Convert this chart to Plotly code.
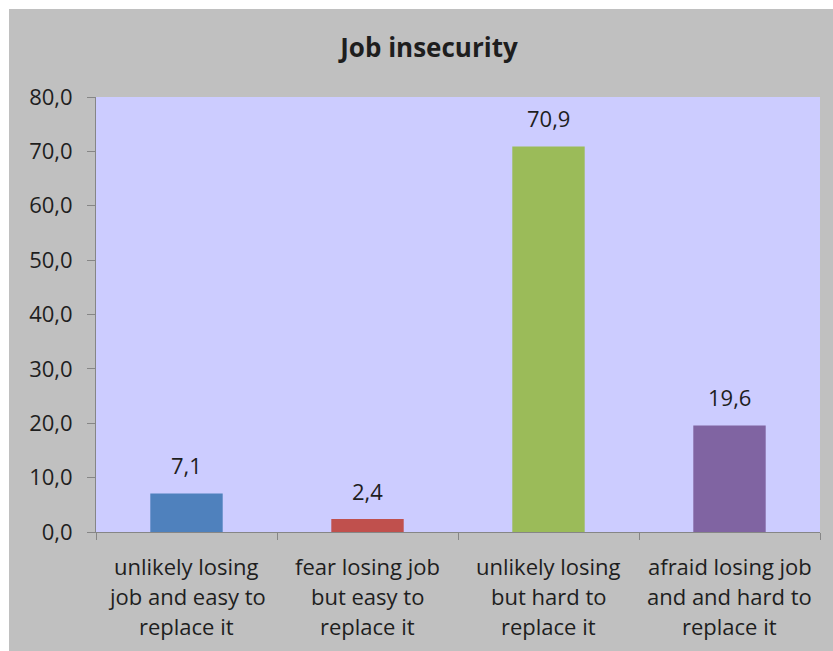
import plotly.graph_objects as go

title = "Job insecurity"
categories = [
    "unlikely losing<br>job and easy to<br>replace it",
    "fear losing job<br>but easy to<br>replace it",
    "unlikely losing<br>but hard to<br>replace it",
    "afraid losing job<br>and and hard to<br>replace it",
]
values = [7.1, 2.4, 70.9, 19.6]
colors = ["#4f81bd", "#c0504d", "#9bbb59", "#8064a2"]
y_ticks = [0, 10, 20, 30, 40, 50, 60, 70, 80]

FONT = "Open Sans"
TXT = "#1e1e1e"

W, H = 833, 651
ML, MR, MT, MB = 96, 13, 97, 119
pw, ph = W - ML - MR, H - MT - MB

fig = go.Figure()
fig.add_trace(go.Bar(
    x=list(range(len(categories))), y=values,
    marker=dict(color=colors, line=dict(width=0)),
    width=0.4, hoverinfo="skip",
))

annotations = []
# data labels
for i, v in enumerate(values):
    annotations.append(dict(
        x=i, y=v, xref="x", yref="y", text=f"{v:.1f}".replace(".", ","),
        showarrow=False, yanchor="bottom", yshift=11,
        font=dict(family=FONT, size=22, color=TXT),
    ))
# category labels (line by line)
for i, c in enumerate(categories):
    for j, line in enumerate(c.split("<br>")):
        annotations.append(dict(
            x=i, y=0, xref="x", yref="paper", text=line,
            showarrow=False, yanchor="middle", yshift=-34 - 30 * j,
            font=dict(family=FONT, size=22, color=TXT),
        ))

# white strips at top and left (outside gray frame)
shapes = [
    dict(type="rect", xref="paper", yref="paper",
         x0=-ML / pw - 0.01, x1=(9 - ML) / pw, y0=-MB / ph - 0.01, y1=(H - MB) / ph + 0.01,
         fillcolor="white", line=dict(width=0), layer="above"),
    dict(type="rect", xref="paper", yref="paper",
         x0=-ML / pw - 0.01, x1=(W - ML) / pw + 0.01, y0=(H - MB - 9) / ph, y1=(H - MB) / ph + 0.01,
         fillcolor="white", line=dict(width=0), layer="above"),
]

fig.update_layout(
    width=W, height=H,
    margin=dict(l=ML, r=MR, t=MT, b=MB, pad=0),
    paper_bgcolor="#c0c0c0",
    plot_bgcolor="#ccccff",
    showlegend=False,
    separators=",.",
    title=dict(text=f"<b>{title}</b>", x=(429) / W, xanchor="center",
               y=1 - 48 / H, yanchor="middle",
               font=dict(family=FONT, size=26, color=TXT)),
    xaxis=dict(
        range=[-0.5, len(categories) - 0.5],
        tickmode="array", tickvals=[i - 0.5 for i in range(len(categories) + 1)],
        showticklabels=False, showgrid=False, zeroline=False,
        showline=True, linecolor="#868686", linewidth=1,
        ticks="outside", ticklen=7, tickcolor="#868686",
    ),
    yaxis=dict(
        range=[0, 80], tickvals=y_ticks, tickformat=".1f",
        showgrid=False, zeroline=False,
        showline=True, linecolor="#868686", linewidth=1,
        ticks="outside", ticklen=8, tickcolor="#868686",
        ticklabelstandoff=10,
        tickfont=dict(family=FONT, size=22, color=TXT),
    ),
    annotations=annotations,
    shapes=shapes,
)

fig.write_html("out.html")
